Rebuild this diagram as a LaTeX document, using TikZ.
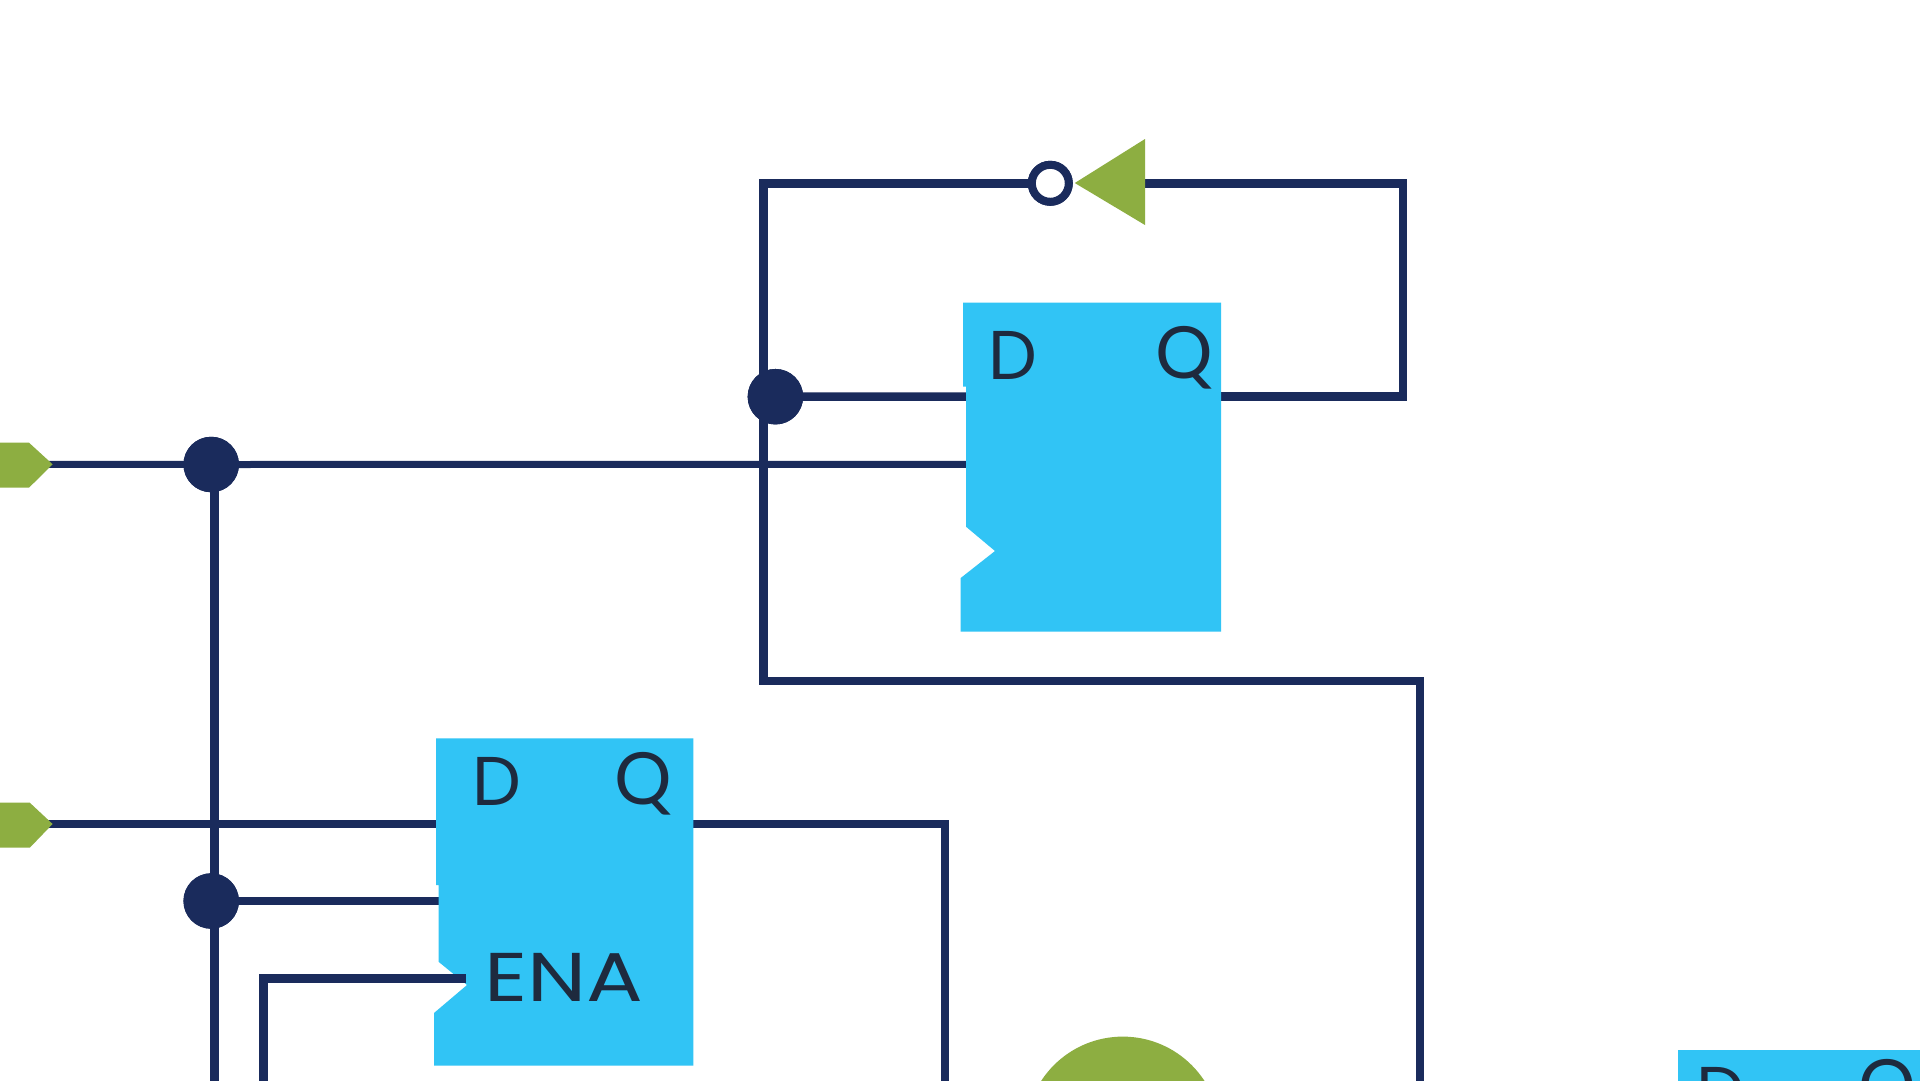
\documentclass[tikz,border=0pt]{standalone}
\usepackage{fontspec}
\newfontfamily\lblfont{Poppins}
\newfontfamily\enafont[FakeStretch=1.22]{Poppins}
\newfontfamily\qfont{Lato}
\definecolor{navy}{HTML}{1A2B5C}
\definecolor{ffblue}{HTML}{31C4F5}
\definecolor{gategreen}{HTML}{8DAE41}
\definecolor{lbltext}{HTML}{1E2A3E}
\tikzset{
  wire/.style={draw=navy,line width=#1,line join=miter,line cap=rect},
  wire/.default=8.5pt,
  junction/.style={circle,fill=navy,inner sep=0pt,minimum size=55.5pt},
  bubble/.style={circle,draw=navy,fill=white,line width=8pt,inner sep=0pt,minimum size=37pt},
  ffbody/.style={fill=ffblue},
  gatefill/.style={fill=gategreen},
  lbl/.style={anchor=base west,inner sep=0pt,text=lbltext,font=\lblfont\fontsize{69}{69}\selectfont},
  lblq/.style={anchor=base west,inner sep=0pt,text=lbltext,font=\qfont\fontsize{72}{72}\selectfont},
  lblena/.style={anchor=base west,inner sep=0pt,text=lbltext,font=\enafont\fontsize{69}{69}\selectfont}
}
\begin{document}
\begin{tikzpicture}[x=1pt,y=-1pt]
\useasboundingbox (0,0) rectangle (1920,1080);
\clip (0,0) rectangle (1920,1080);
\fill[white] (0,0) rectangle (1920,1080);
% named wire points
\coordinate (fbTL) at (763.7,183.3);
\coordinate (fbTR) at (1403,183.3);
\coordinate (fbBR) at (1403,396.5);
\coordinate (fbQ) at (1216,396.5);
\coordinate (fbD) at (963,396.5);
\coordinate (fbBL) at (763.7,681);
\coordinate (fbBRt) at (1420,681);
\coordinate (fbOut) at (1420,1090);
\coordinate (ffaIn) at (963,464.3);
\coordinate (inAtip) at (46,464.3);
\coordinate (inBtip) at (46,824);
\coordinate (ffbD) at (433,824);
\coordinate (ffbQ) at (690,824);
\coordinate (ffbQc) at (945,824);
\coordinate (ffbQd) at (945,1090);
\coordinate (busT) at (214.4,464.3);
\coordinate (busB) at (214.4,1090);
\coordinate (ffbR) at (435,901);
\coordinate (enaTip) at (462,978.3);
\coordinate (enaC) at (263.5,978.3);
\coordinate (enaB) at (263.5,1090);
\coordinate (invR) at (1140,183.3);
% junctions and bubble
\node[junction] (dotA) at (211.2,464.5) {};
\node[junction] (dotB) at (211.2,901) {};
\node[junction] (dotC) at (775.4,396.7) {};
\node[bubble] (inv) at (1050.3,183.3) {};
% wires
\draw[wire] (inv) -- (fbTL) -- (fbBL);
\draw[wire=7.5pt] (fbBL) -- (fbBRt) -- (fbOut);
\draw[wire] (invR) -- (fbTR) -- (fbBR) -- (fbQ);
\draw[wire] (dotC) -- (fbD);
\draw[wire=7pt] (inAtip) -- (dotA) -- (ffaIn);
\draw[wire=7.5pt] (inBtip) -- (ffbD);
\draw[wire=7.5pt] (ffbQ) -- (ffbQc) -- (ffbQd);
\draw[wire=9pt] (busT) -- (busB);
\draw[wire] (dotB) -- (ffbR);
% junctions on top of wires
\node[junction] at (dotA) {};
\node[junction] at (dotB) {};
\node[junction] at (dotC) {};
% green gate parts
\fill[gatefill] (-5,442.7) -- (29,442.7) -- (52.6,464.3) -- (29,487.7) -- (-5,487.7) -- cycle;
\fill[gatefill] (-5,802.7) -- (29.8,802.7) -- (52.6,824) -- (29.8,847.7) -- (-5,847.7) -- cycle;
\fill[gatefill] (1145,139) -- (1074.8,183) -- (1145,225) -- cycle;
\node[bubble] at (inv) {};
\fill[gatefill] (1122.8,1134) circle[radius=97.4];
% flip-flop bodies
\fill[ffbody] (963.2,302.7) -- (1221,302.7) -- (1221,631.7) -- (960.7,631.7) -- (960.7,578) -- (995,551) -- (966,526.7) -- (966,386.7) -- (963.2,386.7) -- cycle;
\fill[ffbody] (436.2,738.3) -- (693.3,738.3) -- (693.3,1065.7) -- (434,1065.7) -- (434,1013) -- (467,985) -- (438.5,961.7) -- (438.5,885) -- (436.2,885) -- cycle;
\fill[ffbody] (1677.5,1050) rectangle (1930,1090);
\draw[wire] (enaTip) -- (enaC) -- (enaB);
% labels
\node[lbl] (ffaD) at (988,379) {D};
\node[lblq] (ffaQ) at (1155,378) {Q};
\node[lbl] (ffbDl) at (472,805) {D};
\node[lblq] (ffbQl) at (614,804) {Q};
\node[lblena] (ffbEna) at (484,1001.7) {ENA};
\node[lbl] (ffcD) at (1696,1115) {D};
\node[lblq] (ffcQ) at (1858,1111) {Q};
\end{tikzpicture}
\end{document}
